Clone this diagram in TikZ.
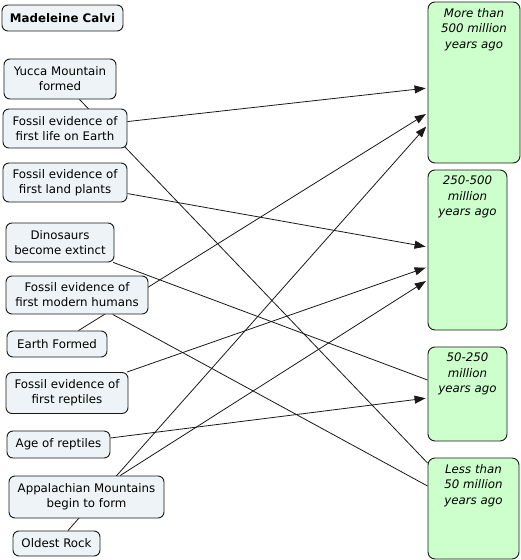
\documentclass[tikz,border=0pt]{standalone}
\usepackage{fontspec}
\setmainfont{DejaVu Sans}
\usepackage{tikz}
\usetikzlibrary{
  arrows.meta,
  backgrounds
}
\definecolor{eventfill}{RGB}{237,243,246}
\definecolor{agefill}{RGB}{204,255,204}

\begin{document}
\begin{tikzpicture}[
      x=1pt, y=-1pt,
      >={Triangle[length=11pt,width=8pt]},
      every node/.style={font=\fontsize{11.8}{15}\selectfont},
      event/.style={draw=black!90, line width=0.9pt, fill=eventfill,
                    rounded corners=6pt, align=center, inner sep=2pt},
      agebox/.style={draw=black!90, line width=0.9pt, fill=agefill,
                     rounded corners=7pt, minimum width=79pt},
      agetext/.style={anchor=north, yshift=-3pt, align=center,
                      font=\fontsize{11.8}{15.5}\selectfont\itshape},
      link/.style={line width=0.8pt, black!90},
      arr/.style={link, ->, shorten >=2pt}
  ]
      \useasboundingbox (0,0) rectangle (521,560);

      % Titre
      \node[event, font=\fontsize{11.8}{15}\selectfont\bfseries,
            minimum width=121pt, minimum height=26pt] (title) at (62.5,18) {Madeleine Calvi};

      % Evenements
      \node[event, minimum width=112pt, minimum height=40pt] (yucca) at (60,79) {Yucca Mountain\\formed};
      \node[event, minimum width=124pt, minimum height=39pt] (life) at (65,128.5) {Fossil evidence of\\first life on Earth};
      \node[event, minimum width=124pt, minimum height=39pt] (plants) at (65,182.5) {Fossil evidence of\\first land plants};
      \node[event, minimum width=108pt, minimum height=39pt] (dinos) at (60,242.5) {Dinosaurs\\become extinct};
      \node[event, minimum width=142pt, minimum height=38pt] (humans) at (77,295) {Fossil evidence of\\first modern humans};
      \node[event, minimum width=100pt, minimum height=26pt] (earth) at (57,344) {Earth Formed};
      \node[event, minimum width=122pt, minimum height=41pt] (reptiles) at (67,393) {Fossil evidence of\\first reptiles};
      \node[event, minimum width=103pt, minimum height=27pt] (agerep) at (58.5,444.5) {Age of reptiles};
      \node[event, minimum width=155pt, minimum height=42pt] (appal) at (86.5,497) {Appalachian Mountains\\begin to form};
      \node[event, minimum width=87pt, minimum height=25pt] (rock) at (56.5,543.5) {Oldest Rock};

      % Periodes
      \node[agebox, minimum width=92pt, minimum height=161pt,
            label={[agetext]north:{More than\\500 million\\years ago}}] (old) at (474,82.5) {};
      \node[agebox, minimum height=160pt,
            label={[agetext]north:{250-500\\million\\years ago}}] (mid) at (467.5,250) {};
      \node[agebox, minimum height=94pt,
            label={[agetext]north:{50-250\\million\\years ago}}] (late) at (467.5,394) {};
      \node[agebox, minimum width=91pt, minimum height=101pt,
            label={[agetext]north:{Less than\\50 million\\years ago}}] (young) at (473.5,508.5) {};

      % Liens
      \begin{pgfonlayer}{background}
          \draw[arr] (life) -- ([yshift=-5.5pt]old.west);
          \draw[arr] (earth) -- ([yshift=-30.5pt]old.west);
          \draw[arr] (rock) -- ([yshift=-42.5pt]old.west);
          \draw[arr] (plants) -- ([yshift=3pt]mid.west);
          \draw[arr] (reptiles) -- ([yshift=-17pt]mid.west);
          \draw[arr] (appal) -- ([yshift=-30pt]mid.west);
          \draw[link] (dinos) -- ([yshift=14pt]late.west);
          \draw[arr] (agerep) -- ([yshift=-4pt]late.west);
          \draw[link] (yucca) -- ([yshift=45.5pt]young.west);
          \draw[link] (humans) -- ([yshift=22.5pt]young.west);
      \end{pgfonlayer}
  \end{tikzpicture}
\end{document}
